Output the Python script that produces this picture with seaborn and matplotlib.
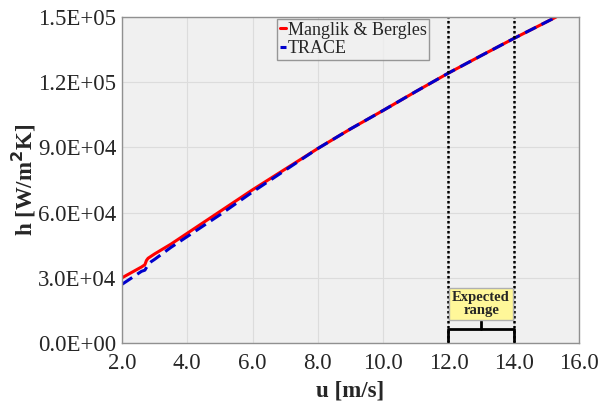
import matplotlib
matplotlib.use("Agg")
import matplotlib.pyplot as plt
import seaborn as sns
import pandas as pd
from matplotlib.ticker import FuncFormatter

u_mb = [2.0, 2.3, 2.6, 2.7, 2.75, 2.8, 3.0, 3.5, 4.0, 5.0, 6.0, 7.0, 8.0, 9.0, 10.0, 11.0, 12.0, 13.0, 14.0, 15.0, 15.3]
h_mb = [3.0e4, 3.25e4, 3.5e4, 3.6e4, 3.8e4, 3.9e4, 4.1e4, 4.55e4, 5.05e4, 6.05e4, 7.05e4, 8.0e4, 8.95e4, 9.85e4, 1.07e5, 1.157e5, 1.242e5, 1.322e5, 1.401e5, 1.477e5, 1.5e5]
u_tr = [2.0, 2.3, 2.6, 2.7, 2.8, 2.9, 3.0, 3.5, 4.0, 5.0, 6.0, 7.0, 8.0, 9.0, 10.0, 11.0, 12.0, 13.0, 14.0, 15.0, 15.3]
h_tr = [2.7e4, 3.0e4, 3.3e4, 3.35e4, 3.6e4, 3.75e4, 3.85e4, 4.4e4, 4.9e4, 5.9e4, 6.95e4, 7.95e4, 8.95e4, 9.85e4, 1.07e5, 1.157e5, 1.242e5, 1.322e5, 1.401e5, 1.477e5, 1.5e5]
series_names = ["Manglik & Bergles", "TRACE"]
x_ticks = [2.0, 4.0, 6.0, 8.0, 10.0, 12.0, 14.0, 16.0]
y_ticks = [0, 3e4, 6e4, 9e4, 1.2e5, 1.5e5]
range_lo, range_hi = 12.0, 14.0

df = pd.concat([
    pd.DataFrame({"u": u_mb, "h": h_mb, "series": series_names[0]}),
    pd.DataFrame({"u": u_tr, "h": h_tr, "series": series_names[1]}),
])

sns.set_theme(style="whitegrid")
plt.rcParams["font.family"] = ["Liberation Serif", "DejaVu Serif"]

fig = plt.figure(figsize=(5.99, 4.05), dpi=100)
ax = fig.add_axes([122/599, 1-343/405, (579-122)/599, (343-17)/405])
ax.set_facecolor("#f0f0f0")

sns.lineplot(data=df, x="u", y="h", hue="series", style="series",
             palette={series_names[0]: "#ff0000", series_names[1]: "#0000cc"},
             dashes={series_names[0]: "", series_names[1]: (4, 2)},
             linewidth=2.2, ax=ax, sort=False)

ax.axvline(range_lo, color="black", linestyle=(0, (1, 1)), linewidth=1.8)
ax.axvline(range_hi, color="black", linestyle=(0, (1, 1)), linewidth=1.8)

# bracket
yb = 6.4e3
ax.plot([range_lo, range_lo, range_hi, range_hi], [1.0e3, yb, yb, 1.0e3], color="black", lw=2, zorder=5)
ax.plot([(range_lo+range_hi)/2]*2, [yb, 1.0e4], color="black", lw=2, zorder=5)
ax.text((range_lo+range_hi)/2, 1.78e4, "Expected\nrange", ha="center", va="center",
        fontsize=10.5, fontweight="bold", linespacing=1.0, zorder=6,
        bbox=dict(boxstyle="square,pad=0.2", facecolor="#fff799", edgecolor="#b0b0b0", lw=1))

ax.set_xlim(2, 16)
ax.set_ylim(0, 1.5e5)
ax.set_xticks(x_ticks)
ax.set_yticks(y_ticks)
ax.xaxis.set_major_formatter(FuncFormatter(lambda v, p: f"{v:.1f}"))
ax.yaxis.set_major_formatter(FuncFormatter(lambda v, p: f"{v:.1E}"))
ax.tick_params(axis="both", labelsize=16.5, direction="in", length=4, color="#808080")
ax.tick_params(axis="x", pad=7)
ax.tick_params(axis="y", pad=4)
ax.grid(True, color="#dcdcdc", linewidth=0.8)
for s in ax.spines.values():
    s.set_color("#909090")
    s.set_linewidth(1)

ax.set_xlabel("u [m/s]", fontsize=16.5, fontweight="bold", labelpad=5)
ax.set_ylabel("h [W/m$^{\\mathbf{2}}$K]", fontsize=16.5, fontweight="bold", labelpad=0)

leg = ax.legend(loc="upper left", bbox_to_anchor=(153/457, 1.0), fontsize=13,
                handlelength=0.35, handletextpad=0.1, borderpad=0.15, labelspacing=0.1,
                frameon=True, fancybox=False, borderaxespad=0.1)
leg.get_frame().set_edgecolor("#808080")
leg.get_frame().set_facecolor("#f0f0f0")
leg.get_frame().set_linewidth(1)

fig.savefig("out.png", dpi=100)
